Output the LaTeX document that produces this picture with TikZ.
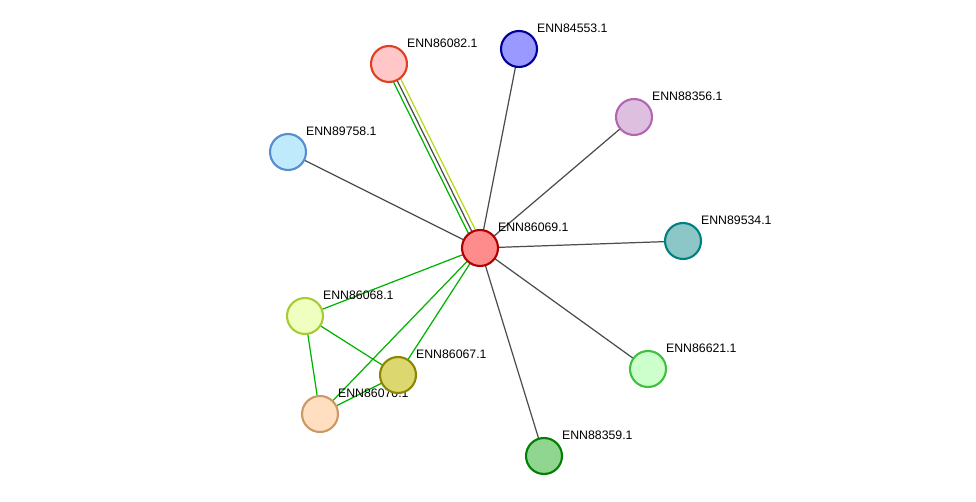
\documentclass[tikz,border=0pt]{standalone}
\usepackage{fontspec}
\setmainfont{Liberation Sans}
\begin{document}
\begin{tikzpicture}[x=0.02cm,y=-0.02cm,
  prot/.style 2 args={circle,draw=#1,fill=#2,line width=1.2pt,minimum size=0.72cm,inner sep=0pt},
  lbl/.style={anchor=south west,inner sep=1pt,font=\fontsize{7}{8}\selectfont},
  gray edge/.style={draw=black!70,line width=0.7pt},
  green edge/.style={draw=green!70!black,line width=0.7pt}]
\useasboundingbox (0,0) rectangle (976,502);
% coordinates
\coordinate (c69) at (480,248);
\coordinate (c82) at (389,64);
\coordinate (c53) at (519,49);
\coordinate (c56) at (634,117);
\coordinate (c58) at (288,152);
\coordinate (c34) at (683,241);
\coordinate (c68) at (305,316);
\coordinate (c67) at (398,375);
\coordinate (c70) at (320,414);
\coordinate (c21) at (648,369);
\coordinate (c59) at (544,456);
% edges
\foreach \t in {c53,c56,c58,c34,c21,c59}
  \draw[gray edge] (c69) -- (\t);
\draw[green edge] ([xshift=-2.5]c69) -- ([xshift=-2.5]c82);
\draw[gray edge] (c69) -- (c82);
\draw[draw=yellow!70!green,line width=0.7pt] ([xshift=2.5]c69) -- ([xshift=2.5]c82);
\foreach \s/\t in {c69/c68,c69/c67,c69/c70,c68/c67,c68/c70,c67/c70}
  \draw[green edge] (\s) -- (\t);
% labels
\foreach \c/\n in {c69/ENN86069.1,c82/ENN86082.1,c53/ENN84553.1,c56/ENN88356.1,c58/ENN89758.1,
  c34/ENN89534.1,c68/ENN86068.1,c67/ENN86067.1,c70/ENN86070.1,c21/ENN86621.1,c59/ENN88359.1}
  \node[lbl] at ([shift={(16,-14)}]\c) {\n};
% nodes
\node[prot={red!70!black}{red!45}] (p69) at (c69) {};
\node[prot={red!50!brown}{red!22}] (p82) at (c82) {};
\node[prot={blue!60!black}{blue!40}] (p53) at (c53) {};
\node[prot={violet!60}{violet!25}] (p56) at (c56) {};
\node[prot={cyan!50!blue!70}{cyan!25}] (p58) at (c58) {};
\node[prot={teal}{teal!45}] (p34) at (c34) {};
\node[prot={lime!60!gray}{lime!25}] (p68) at (c68) {};
\node[prot={olive}{yellow!40!olive!50}] (p67) at (c67) {};
\node[prot={brown!80}{orange!25}] (p70) at (c70) {};
\node[prot={green!50!gray}{green!20}] (p21) at (c21) {};
\node[prot={green!50!black}{green!45!gray!60}] (p59) at (c59) {};
\end{tikzpicture}
\end{document}
